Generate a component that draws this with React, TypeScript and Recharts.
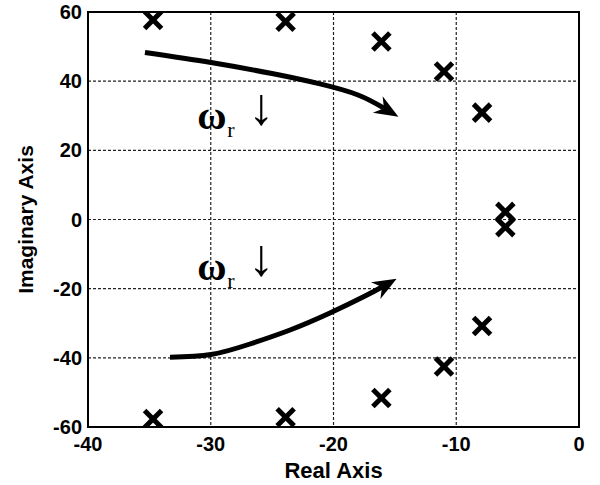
import React from 'react';
import {
  ComposedChart, Line, Scatter, XAxis, YAxis, CartesianGrid,
  ReferenceArea, ReferenceDot, Label,
} from 'recharts';

// tick labels
const realTicks = [-40, -30, -20, -10, 0];
const imagTicks = [-60, -40, -20, 0, 20, 40, 60];

// open-loop poles (crosses)
const poleReal = [-34.7, -23.9, -16.1, -11.0, -7.9, -6.0, -6.0, -7.9, -11.0, -16.1, -23.9, -34.7];
const poleImag = [57.7, 57.2, 51.5, 42.8, 30.9, 2.2, -2.2, -30.8, -42.5, -51.6, -57.2, -57.7];

// root locus trajectories as omega_r decreases
const upperReal = [-35.36, -29.98, -25.01, -21.1, -18.0, -15.89];
const upperImag = [48.3, 45.4, 42.2, 39.2, 36.0, 32.2];
const lowerReal = [-33.32, -29.98, -26.8, -23.54, -20.29, -17.43, -16.05];
const lowerImag = [-39.8, -39.05, -36.0, -31.96, -27.04, -22.13, -19.52];

// label anchors (left of the omega, on its baseline)
const labelReal = [-31.1, -31.1];
const labelImag = [26.2, -17.5];

const poles = poleReal.map((x, i) => ({ x, y: poleImag[i] }));
const upper = upperReal.map((x, i) => ({ x, y: upperImag[i] }));
const lower = lowerReal.map((x, i) => ({ x, y: lowerImag[i] }));

const TICK_FONT = { fontFamily: 'Liberation Sans, Arial', fontWeight: 700, fontSize: 20, fill: '#000' };

const Cross = (props: any) => {
  const { cx, cy } = props;
  const s = 8.5;
  return (
    <g stroke="#000" strokeWidth={5}>
      <line x1={cx - s} y1={cy - s} x2={cx + s} y2={cy + s} />
      <line x1={cx - s} y1={cy + s} x2={cx + s} y2={cy - s} />
    </g>
  );
};

const OmegaLabel = (props: any) => {
  const { cx, cy } = props;
  return (
    <g fontFamily="Liberation Serif, Times New Roman, serif" fill="#000">
      <text x={cx} y={cy} fontSize={40} fontWeight={700}>ω</text>
      <text x={cx + 30} y={cy + 8} fontSize={22}>r</text>
      <text x={cx + 64} y={cy - 5} fontSize={52} textAnchor="middle">↓</text>
    </g>
  );
};

const App: React.FC = () => {
  return (
    <div style={{ position: 'absolute', left: 0, top: 0, background: '#fff' }}>
      <ComposedChart
        width={600}
        height={485}
        margin={{ top: 12, right: 21, bottom: 0, left: 0 }}
      >
        <defs>
          <marker
            id="arrowHead"
            viewBox="0 0 10 10"
            refX="3"
            refY="5"
            markerWidth="24"
            markerHeight="24"
            markerUnits="userSpaceOnUse"
            orient="auto"
          >
            <path d="M0,1 L10,5 L0,9 L3,5 z" fill="#000" />
          </marker>
        </defs>
        <CartesianGrid stroke="#222" strokeWidth={1.2} strokeDasharray="3 2" />
        <XAxis
          type="number"
          dataKey="x"
          domain={[-40, 0]}
          ticks={realTicks}
          allowDataOverflow
          height={58}
          tickLine={false}
          tickSize={0}
          tickMargin={10}
          axisLine={{ stroke: '#000', strokeWidth: 2 }}
          tick={TICK_FONT}
        >
          <Label
            content={(p: any) => {
              const vb = p.viewBox;
              return (
                <text
                  x={vb.x + vb.width / 2}
                  y={470}
                  textAnchor="middle"
                  dominantBaseline="central"
                  style={{ ...TICK_FONT, fontSize: 22 }}
                >
                  Real Axis
                </text>
              );
            }}
          />
        </XAxis>
        <YAxis
          type="number"
          dataKey="y"
          domain={[-60, 60]}
          ticks={imagTicks}
          allowDataOverflow
          width={88}
          tickLine={false}
          tickSize={0}
          tickMargin={6}
          axisLine={{ stroke: '#000', strokeWidth: 2 }}
          tick={TICK_FONT}
        >
          <Label
            content={(p: any) => {
              const vb = p.viewBox;
              const cy = vb.y + vb.height / 2;
              return (
                <text
                  x={25}
                  y={cy}
                  textAnchor="middle"
                  dominantBaseline="central"
                  transform={`rotate(-90, 25, ${cy})`}
                  style={{ ...TICK_FONT, fontSize: 21 }}
                >
                  Imaginary Axis
                </text>
              );
            }}
          />
        </YAxis>
        <ReferenceArea
          x1={-40}
          x2={0}
          y1={-60}
          y2={60}
          fill="none"
          stroke="#000"
          strokeWidth={2}
          ifOverflow="visible"
        />
        <Line
          data={upper}
          dataKey="y"
          type="natural"
          stroke="#000"
          strokeWidth={5}
          dot={false}
          markerEnd="url(#arrowHead)"
          isAnimationActive={false}
        />
        <Line
          data={lower}
          dataKey="y"
          type="natural"
          stroke="#000"
          strokeWidth={5}
          dot={false}
          markerEnd="url(#arrowHead)"
          isAnimationActive={false}
        />
        <Scatter data={poles} dataKey="y" shape={Cross} isAnimationActive={false} />
        {labelReal.map((x, i) => (
          <ReferenceDot
            key={i}
            x={x}
            y={labelImag[i]}
            r={0}
            shape={OmegaLabel}
            ifOverflow="visible"
          />
        ))}
      </ComposedChart>
    </div>
  );
};

export default App;
